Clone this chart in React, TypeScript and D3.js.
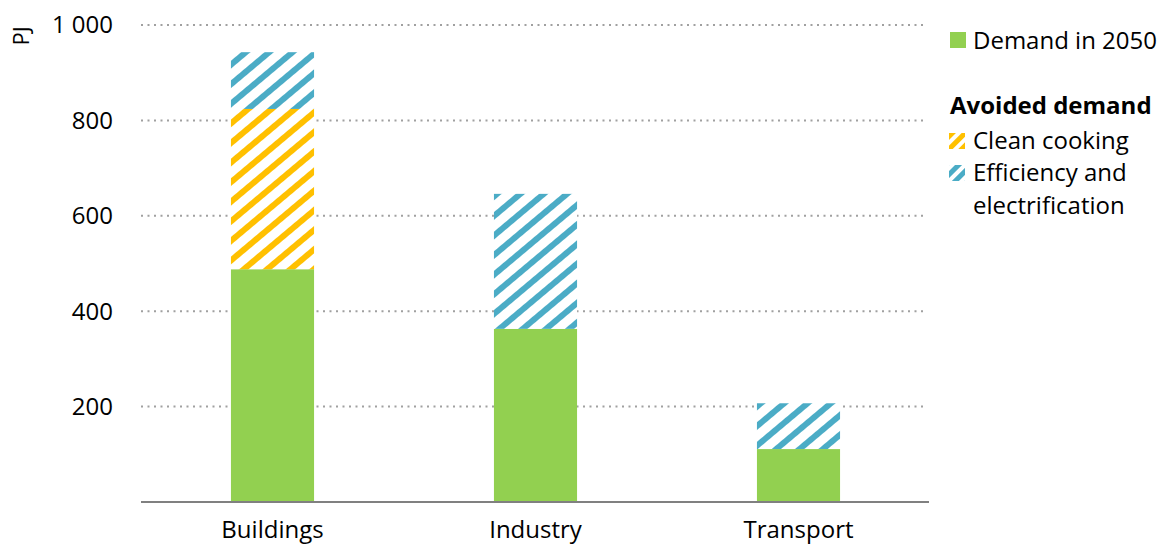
import React from "react";
import * as d3 from "d3";

const categories = ["Buildings", "Industry", "Transport"];
const demand2050 = [488, 363, 111];
const cleanCooking = [336, 0, 0];
const efficiency = [119, 283, 96];
const yTicks = [200, 400, 600, 800, 1000];

const W = 1174;
const H = 545;
const GREEN = "#92D050";
const YELLOW = "#FFC000";
const BLUE = "#4BACC6";
const FONT = "'Open Sans', 'Noto Sans', sans-serif";

export default function App() {
  const x = d3.scaleBand<string>().domain(categories).range([141, 930]).paddingInner(0.684).paddingOuter(0.342);
  const y = d3.scaleLinear().domain([0, 1000]).range([502, 25]);
  const fmt = (v: number) => d3.format(",")(v).replace(/,/g, " ");

  const series = [
    { key: "demand", values: demand2050, fill: GREEN },
    { key: "clean", values: cleanCooking, fill: "url(#hatchYellow)" },
    { key: "eff", values: efficiency, fill: "url(#hatchBlue)" },
  ];

  const rects: React.ReactNode[] = [];
  categories.forEach((c, i) => {
    let base = 0;
    series.forEach((s) => {
      const v = s.values[i];
      if (v > 0) {
        rects.push(
          <rect key={s.key + c} x={x(c)} width={x.bandwidth()} y={y(base + v)} height={y(base) - y(base + v)} fill={s.fill} />
        );
      }
      base += v;
    });
  });

  return (
    <svg width={W} height={H} style={{ position: "absolute", left: 0, top: 0, fontFamily: FONT }}>
      <defs>
        <pattern id="hatchYellow" patternUnits="userSpaceOnUse" width="15" height="15" patternTransform="rotate(-40)">
          <rect x="0" y="0" width="15" height="15" fill="white" />
          <rect x="0" y="0" width="15" height="6" fill={YELLOW} />
        </pattern>
        <pattern id="hatchBlue" patternUnits="userSpaceOnUse" width="15" height="15" patternTransform="rotate(-40)">
          <rect x="0" y="0" width="15" height="15" fill="white" />
          <rect x="0" y="0" width="15" height="6" fill={BLUE} />
        </pattern>
        <pattern id="legYellow" patternUnits="userSpaceOnUse" width="9" height="9" patternTransform="rotate(-45)">
          <rect x="0" y="0" width="9" height="9" fill="white" />
          <rect x="0" y="0" width="9" height="5" fill={YELLOW} />
        </pattern>
        <pattern id="legBlue" patternUnits="userSpaceOnUse" width="9" height="9" patternTransform="rotate(-45)">
          <rect x="0" y="0" width="9" height="9" fill="white" />
          <rect x="0" y="0" width="9" height="5" fill={BLUE} />
        </pattern>
      </defs>
      <rect x={0} y={0} width={W} height={H} fill="white" />
      {yTicks.map((t) => (
        <g key={t}>
          <line x1={141} x2={925} y1={y(t)} y2={y(t)} stroke="#a0a0a0" strokeWidth={2} strokeDasharray="2 4.5" />
          <text x={113} y={y(t)} dy="0.35em" textAnchor="end" fontSize={24} fill="#000">
            {fmt(t)}
          </text>
        </g>
      ))}
      <text transform={`translate(29,36) rotate(-90)`} textAnchor="middle" fontSize={22} fill="#000">PJ</text>
      {rects}
      <line x1={141} x2={929} y1={y(0)} y2={y(0)} stroke="#808080" strokeWidth={2} />
      {categories.map((c) => (
        <text key={c} x={(x(c) as number) + x.bandwidth() / 2} y={538} textAnchor="middle" fontSize={24} fill="#000">
          {c}
        </text>
      ))}
      <g fontSize={24} fill="#000">
        <rect x={950} y={32} width={16} height={16} fill={GREEN} />
        <text x={973} y={49}>Demand in 2050</text>
        <text x={950} y={114} fontWeight="bold">Avoided demand</text>
        <rect x={949} y={133} width={16} height={16} fill="url(#legYellow)" />
        <text x={973} y={149}>Clean cooking</text>
        <rect x={949} y={165} width={16} height={16} fill="url(#legBlue)" />
        <text x={973} y={181}>Efficiency and</text>
        <text x={973} y={214}>electrification</text>
      </g>
    </svg>
  );
}
